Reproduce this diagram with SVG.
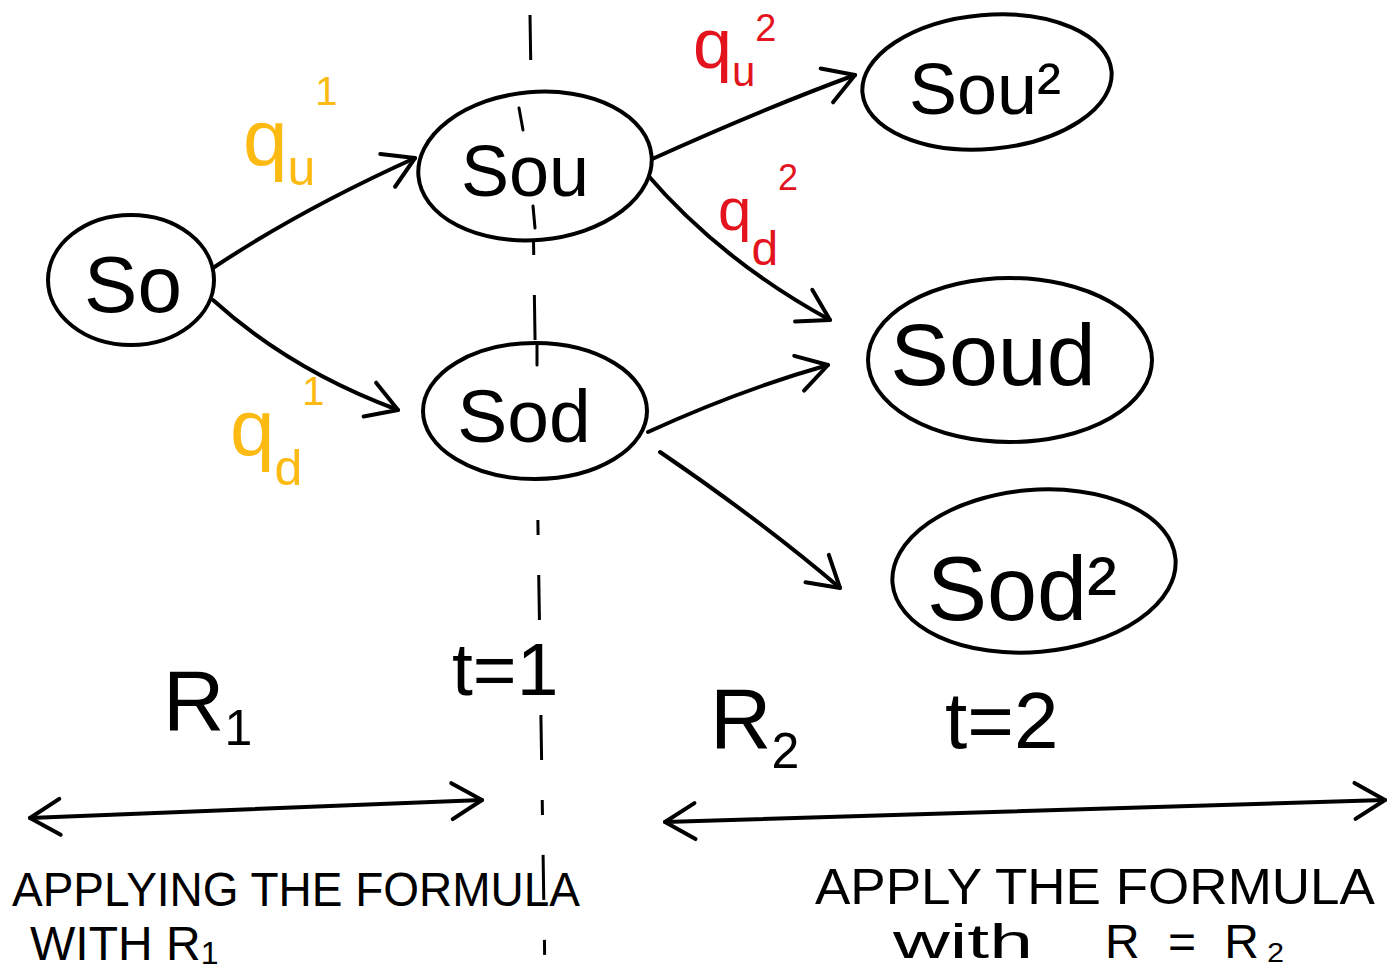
<svg xmlns="http://www.w3.org/2000/svg" width="1393" height="978" viewBox="0 0 1393 978">
<style>
.node{fill:#fff;stroke:#000;stroke-width:4}
.lbl{font-family:"Liberation Sans",Arial,sans-serif;fill:#000}
.edge{fill:none;stroke:#000;stroke-width:4;stroke-linecap:round}
.tick{fill:none;stroke:#000;stroke-width:3;stroke-linecap:round}
.yl{font-family:"Liberation Sans",Arial,sans-serif;fill:#FDBA12}
.rd{font-family:"Liberation Sans",Arial,sans-serif;fill:#E3141E}
.hand{font-family:"Liberation Sans",Arial,sans-serif;fill:#000}
</style>
<defs>
<marker id="chev" viewBox="-40 -25 50 50" markerWidth="50" markerHeight="50" markerUnits="userSpaceOnUse" refX="0" refY="0" orient="auto-start-reverse">
<path d="M-30,-18 L0,0 L-30,18" fill="none" stroke="#000" stroke-width="4" stroke-linecap="round" stroke-linejoin="round"/>
</marker>
</defs>
<rect width="1393" height="978" fill="#fff"/>
<path d="M530,15 L545,978" fill="none" stroke="#000" stroke-width="3" stroke-dasharray="45,40,15,40"/>
<g id="connectors">
<path class="edge" d="M213,268 Q300,210 415,158" marker-end="url(#chev)"/>
<path class="edge" d="M213,300 Q290,370 398,410" marker-end="url(#chev)"/>
<path class="edge" d="M650,160 Q760,110 855,75" marker-end="url(#chev)"/>
<path class="edge" d="M645,172 Q720,260 830,320" marker-end="url(#chev)"/>
<path class="edge" d="M648,432 Q740,390 828,365" marker-end="url(#chev)"/>
<path class="edge" d="M660,452 Q760,520 840,588" marker-end="url(#chev)"/>
<path class="edge" d="M30,818 L482,800" marker-start="url(#chev)" marker-end="url(#chev)"/>
<path class="edge" d="M665,822 L1385,800" marker-start="url(#chev)" marker-end="url(#chev)"/>
</g>
<g id="n-so">
<ellipse class="node" cx="131" cy="280" rx="83" ry="65"/>
<text class="lbl" x="133" y="312" font-size="80" text-anchor="middle">So</text>
</g>
<g id="n-sou">
<ellipse class="node" cx="535" cy="166" rx="117" ry="74" transform="rotate(-5 535 166)"/>
<text class="lbl" x="525" y="196" font-size="72" text-anchor="middle">Sou</text>
</g>
<g id="n-sod">
<ellipse class="node" cx="535" cy="411" rx="112" ry="68"/>
<text class="lbl" x="524" y="442" font-size="75" text-anchor="middle">Sod</text>
</g>
<g id="n-sou2">
<ellipse class="node" cx="987" cy="82" rx="125" ry="67" transform="rotate(-5 987 82)"/>
<text class="lbl" x="985" y="114" font-size="72" text-anchor="middle">Sou²</text>
</g>
<g id="n-soud">
<ellipse class="node" cx="1010" cy="360" rx="142" ry="82"/>
<text class="lbl" x="993" y="385" font-size="88" text-anchor="middle">Soud</text>
</g>
<g id="n-sod2">
<ellipse class="node" cx="1034" cy="571" rx="142" ry="81" transform="rotate(-5 1034 571)"/>
<text class="lbl" x="1022" y="620" font-size="90" text-anchor="middle">Sod²</text>
</g>
<g id="divider-ticks">
<path class="tick" d="M519,108 L523,130"/>
<path class="tick" d="M533,206 L535,228"/>
<path class="tick" d="M537,345 L537,365"/>
</g>
<g id="edge-labels">
<text class="yl" x="243" y="165" font-size="80">q<tspan font-size="50" dy="20">u</tspan><tspan font-size="40" dy="-80">1</tspan></text>
<text class="yl" x="230" y="455" font-size="80">q<tspan font-size="50" dy="30">d</tspan><tspan font-size="40" dy="-80">1</tspan></text>
<text class="rd" x="693" y="68" font-size="70">q<tspan font-size="42" dy="18">u</tspan><tspan font-size="38" dy="-45">2</tspan></text>
<text class="rd" x="718" y="230" font-size="60">q<tspan font-size="48" dy="35">d</tspan><tspan font-size="36" dy="-75">2</tspan></text>
</g>
<g id="annotations">
<text class="hand" x="163" y="730" font-size="85">R<tspan font-size="50" dy="15">1</tspan></text>
<text class="hand" x="452" y="695" font-size="75">t=1</text>
<text class="hand" x="710" y="748" font-size="85">R<tspan font-size="50" dy="20">2</tspan></text>
<text class="hand" x="945" y="748" font-size="80">t=2</text>
<text class="hand" x="12" y="906" font-size="48" textLength="568" lengthAdjust="spacingAndGlyphs">APPLYING THE FORMULA</text>
<text class="hand" x="30" y="960" font-size="48">WITH  R<tspan font-size="32" dy="4">1</tspan></text>
<text class="hand" x="815" y="904" font-size="50" textLength="560" lengthAdjust="spacingAndGlyphs">APPLY THE FORMULA</text>
<text class="hand" x="893" y="958" font-size="48" textLength="140" lengthAdjust="spacingAndGlyphs">with</text>
<text class="hand" x="1105" y="958" font-size="48" textLength="180" lengthAdjust="spacing">R = R₂</text>
</g>
</svg>
